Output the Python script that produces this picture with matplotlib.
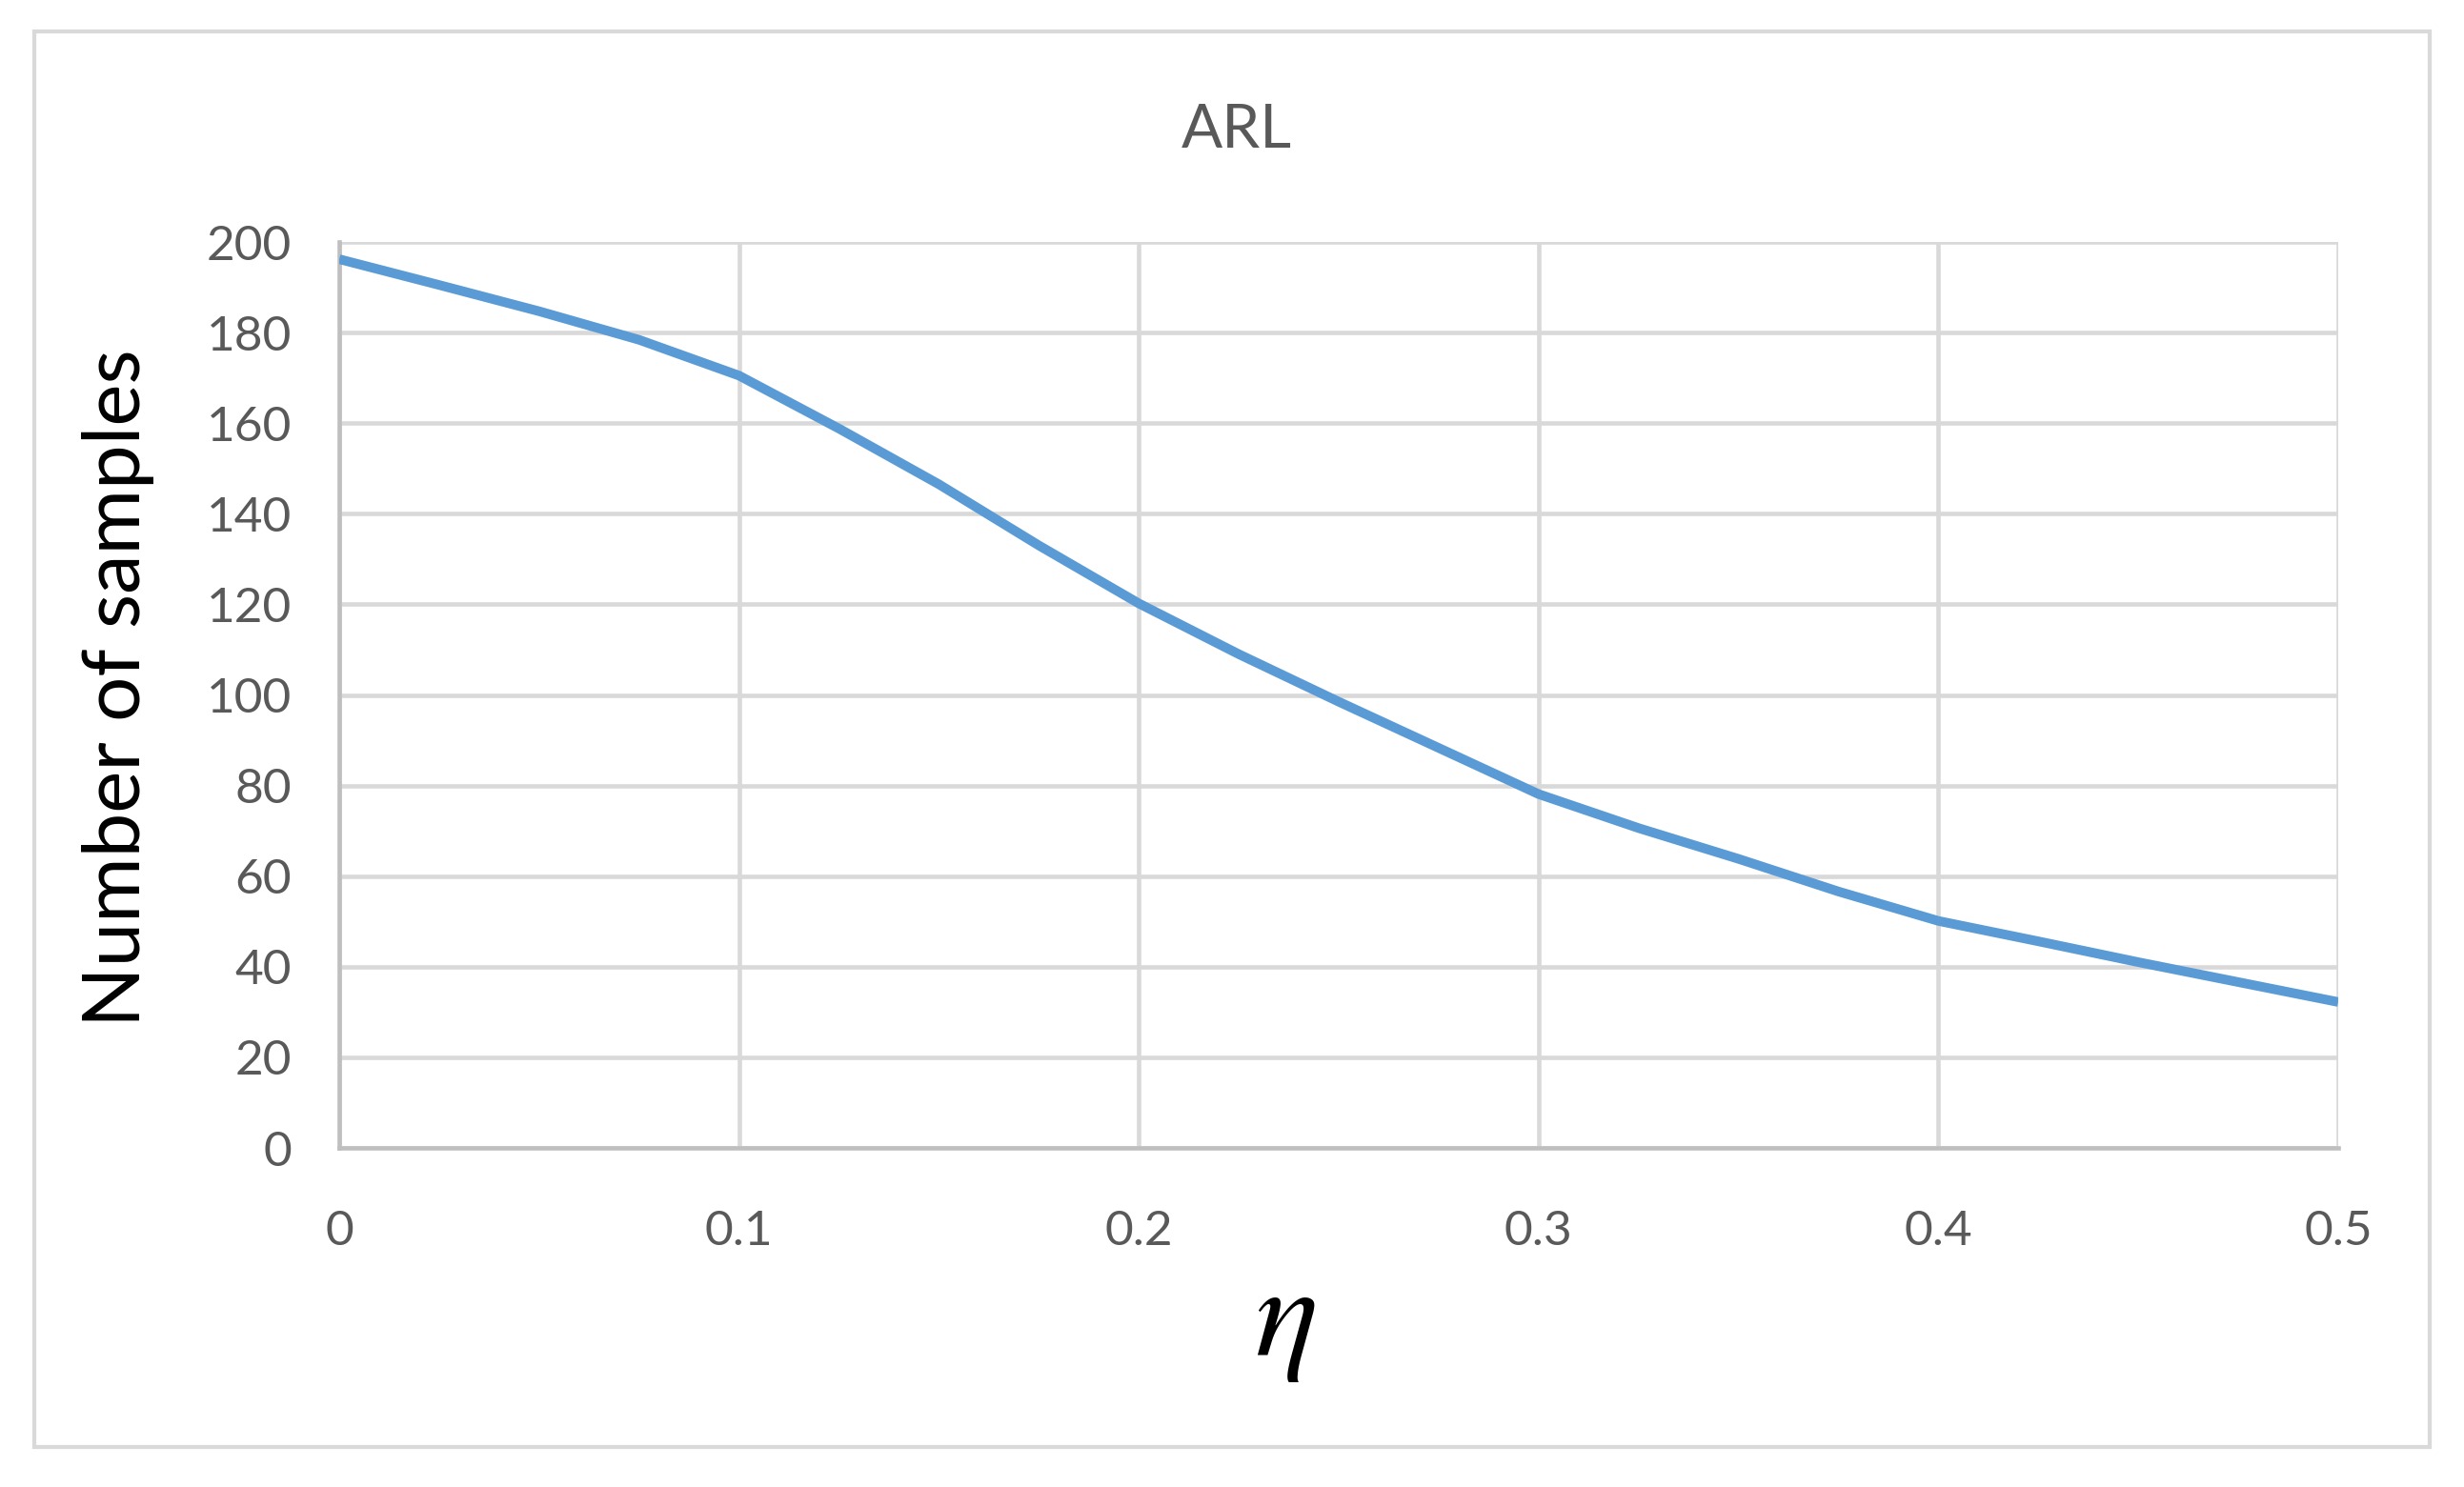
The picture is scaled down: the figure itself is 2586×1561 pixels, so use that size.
import matplotlib
matplotlib.use("Agg")
import matplotlib.pyplot as plt
from matplotlib.patches import Rectangle

# (eta vs ARL)
eta = [0.0, 0.025, 0.05, 0.075, 0.1, 0.125, 0.15, 0.175, 0.2, 0.225, 0.25,
       0.275, 0.3, 0.325, 0.35, 0.375, 0.4, 0.425, 0.45, 0.475, 0.5]
arl = [196.2, 190.5, 184.7, 178.4, 170.5, 158.8, 146.5, 133.0, 120.2, 109.0, 98.5,
       88.3, 78.1, 70.6, 63.8, 56.6, 50.1, 45.6, 41.0, 36.6, 32.2]

x_ticks = [0, 0.1, 0.2, 0.3, 0.4, 0.5]
x_labels = ['0', '0.1', '0.2', '0.3', '0.4', '0.5']
y_ticks = list(range(0, 201, 20))

plt.rcParams['font.family'] = ['Lato', 'DejaVu Sans']
plt.rcParams['mathtext.fontset'] = 'stix'

W, H = 2586, 1561
fig = plt.figure(figsize=(W / 100, H / 100), dpi=100)

# chart area border
fig.patches.append(Rectangle((36 / W, 1 - 1519 / H), (2550 - 36) / W, (1519 - 33) / H,
                             transform=fig.transFigure, fill=False,
                             edgecolor='#D9D9D9', linewidth=3))

ax = fig.add_axes([356 / W, 1 - 1205 / H, (2454 - 356) / W, (1205 - 254) / H])
ax.plot(eta, arl, color='#5B9BD5', linewidth=7.2, solid_capstyle='butt',
        solid_joinstyle='round', zorder=3)

ax.set_xlim(0, 0.5)
ax.set_ylim(0, 200)
ax.set_xticks(x_ticks)
ax.set_xticklabels(x_labels)
ax.set_yticks(y_ticks)
ax.grid(True, color='#D9D9D9', linewidth=3.3)
ax.set_axisbelow(True)
for s in ['top', 'right']:
    ax.spines[s].set_visible(False)
for s in ['left', 'bottom']:
    ax.spines[s].set_color('#BFBFBF')
    ax.spines[s].set_linewidth(3.3)
ax.tick_params(axis='both', length=0, labelsize=37, labelcolor='#595959')
ax.tick_params(axis='x', pad=47)
ax.tick_params(axis='y', pad=36)

fig.text(0.502, 0.912, 'ARL', fontsize=46, color='#595959', ha='center', va='center')
fig.text(124 / W, 0.5375, 'Number of samples', fontsize=60, color='black',
         rotation=90, ha='center', va='center')
fig.text(0.5216, 0.11, r'$\eta$', fontsize=100, color='black', ha='center', va='center')

fig.savefig('out.png', dpi=100, facecolor='white')
